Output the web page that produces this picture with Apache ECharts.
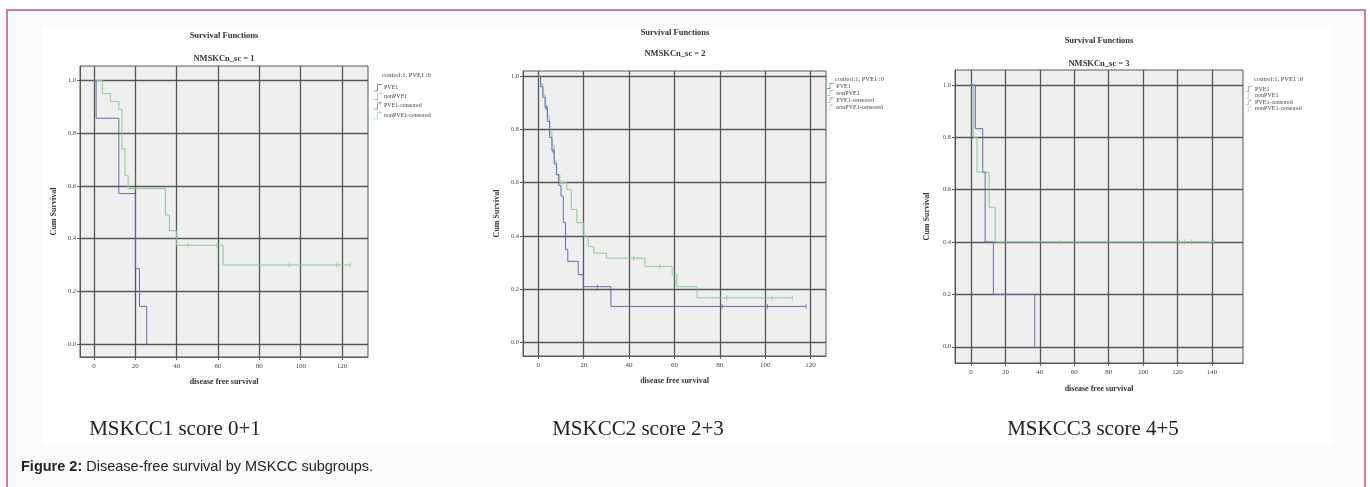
<!DOCTYPE html>
<html><head><meta charset="utf-8">
<script src="https://cdn.jsdelivr.net/npm/echarts@6/dist/echarts.min.js"></script>
<style>html,body{margin:0;padding:0;background:#fff}#c{width:1370px;height:487px}</style>
</head><body><div id="c"></div><script>
// ---------- data ----------
const panelSubtitles = ['NMSKCn_sc = 1', 'NMSKCn_sc = 2', 'NMSKCn_sc = 3'];
const panelLabels = ['MSKCC1 score 0+1', 'MSKCC2 score 2+3', 'MSKCC3 score 4+5'];
const legendHeader = 'control:1, PVE1 :0';
const seriesNames = ['PVE1', 'nonPVE1', 'PVE1-censored', 'nonPVE1-censored'];
const xTicksA = [0, 20, 40, 60, 80, 100, 120];
const xTicksB = [0, 20, 40, 60, 80, 100, 120, 140];
const yTicks = [0, 0.2, 0.4, 0.6, 0.8, 1.0];

// Panel 1 (NMSKCn_sc = 1)
const p1PveTime = [0, 1, 12, 20, 22, 25.5];
const p1PveSurv = [1, 0.857, 0.571, 0.286, 0.143, 0];
const p1NonTime = [0, 4, 8, 12, 13.5, 15, 16.5, 34.5, 36.5, 40, 62.5, 124];
const p1NonSurv = [1, 0.95, 0.92, 0.89, 0.74, 0.64, 0.59, 0.49, 0.43, 0.375, 0.30, 0.30];
const p1PveCensTime = [];
const p1PveCensSurv = [];
const p1NonCensTime = [45.5, 59.5, 94.5, 117.5, 124];
const p1NonCensSurv = [0.375, 0.375, 0.30, 0.30, 0.30];

// Panel 2 (NMSKCn_sc = 2)
const p2PveTime = [0, 1, 2, 3, 4, 5, 6, 7, 8, 9, 10, 11, 12, 13, 17.6, 19.8, 32, 118];
const p2PveSurv = [1, 0.96, 0.92, 0.88, 0.83, 0.77, 0.72, 0.67, 0.63, 0.59, 0.55, 0.45, 0.35, 0.305, 0.255, 0.21, 0.136, 0.136];
const p2NonTime = [0, 1, 2, 3, 4, 5, 6, 7, 8, 9.5, 12.5, 14.5, 17, 20, 22, 24.5, 30, 47, 59, 61, 70, 112];
const p2NonSurv = [1, 0.97, 0.93, 0.89, 0.85, 0.79, 0.74, 0.68, 0.63, 0.6, 0.575, 0.5, 0.45, 0.4, 0.36, 0.336, 0.317, 0.286, 0.255, 0.21, 0.168, 0.168];
const p2PveCensTime = [3.5, 6.5, 26, 81, 101, 118];
const p2PveCensSurv = [0.88, 0.72, 0.21, 0.136, 0.136, 0.136];
const p2NonCensTime = [42, 53.5, 83, 103, 112];
const p2NonCensSurv = [0.317, 0.286, 0.168, 0.168, 0.168];

// Panel 3 (NMSKCn_sc = 3)
const p3PveTime = [0, 2.5, 6.8, 8.2, 13, 37];
const p3PveSurv = [1, 0.833, 0.667, 0.4, 0.2, 0];
const p3NonTime = [0, 1.5, 3.5, 10.5, 14, 141];
const p3NonSurv = [1, 0.8, 0.667, 0.533, 0.4, 0.4];
const p3PveCensTime = [];
const p3PveCensSurv = [];
const p3NonCensTime = [52, 121, 124, 128, 141];
const p3NonCensSurv = [0.4, 0.4, 0.4, 0.4, 0.4];

// ---------- layout / style ----------
const BLUE = '#6a6aa8';
const GREEN = '#86cc98';
const GRIDC = '#575757';
const SERIF = 'Liberation Serif';

const panels = [
  { grid: {left: 80, top: 66, width: 288, height: 291}, x: [-6.8, 132.6], y: [-0.049, 1.055], xt: xTicksA,
    cx: 224, tTop: 31, sTop: 54, legL: 374, legT: 84, legGap: 1.6, legH: 8, legHdrTop: 72, lblTop: 419, lblX: 175,
    yNameGap: 22, xNameGap: 21,
    pve: [p1PveTime, p1PveSurv], non: [p1NonTime, p1NonSurv], pc: [p1PveCensTime, p1PveCensSurv], nc: [p1NonCensTime, p1NonCensSurv] },
  { grid: {left: 523, top: 71, width: 303, height: 285}, x: [-6.75, 126.8], y: [-0.05, 1.019], xt: xTicksA,
    cx: 675, tTop: 28, sTop: 49, legL: 827, legT: 83, legGap: 1, legH: 6, legHdrTop: 76, lblTop: 419, lblX: 638,
    yNameGap: 22, xNameGap: 21,
    pve: [p2PveTime, p2PveSurv], non: [p2NonTime, p2NonSurv], pc: [p2PveCensTime, p2PveCensSurv], nc: [p2NonCensTime, p2NonCensSurv] },
  { grid: {left: 955, top: 70, width: 288, height: 293}, x: [-9.3, 158], y: [-0.062, 1.057], xt: xTicksB,
    cx: 1099, tTop: 36, sTop: 59, legL: 1246, legT: 86, legGap: 0.5, legH: 5.5, legHdrTop: 76, lblTop: 419, lblX: 1093,
    yNameGap: 24, xNameGap: 22,
    pve: [p3PveTime, p3PveSurv], non: [p3NonTime, p3NonSurv], pc: [p3PveCensTime, p3PveCensSurv], nc: [p3NonCensTime, p3NonCensSurv] }
];

const zip = (t, s) => t.map((v, i) => [v, s[i]]);
const stepIcon = 'path://M0,9 L4,9 L4,1 L10,1 L10,2 L5,2 L5,10 L0,10 Z';
const censIcon = 'path://M0,9 L4,9 L4,1 L10,1 L10,2 L5,2 L5,10 L0,10 Z M7,0 L8,0 L8,4 L7,4 Z';

const option = {
  backgroundColor: '#ffffff',
  animation: false,
  title: [],
  grid: [],
  xAxis: [],
  yAxis: [],
  legend: [],
  series: [],
  graphic: [
    { type: 'rect', shape: {x: 7, y: 10, width: 1358, height: 500}, style: {fill: '#fbfbfb', stroke: '#c4546f', lineWidth: 1.5}, z: -10 },
    { type: 'rect', shape: {x: 42, y: 26, width: 1291, height: 419}, style: {fill: '#ffffff'}, z: -9 }
  ]
};

panels.forEach((p, i) => {
  option.grid.push(Object.assign({show: true, backgroundColor: '#efefef', borderColor: GRIDC, borderWidth: 1}, p.grid));
  option.xAxis.push({
    type: 'value', gridIndex: i, min: p.x[0], max: p.x[1],
    name: 'disease free survival', nameLocation: 'middle', nameGap: p.xNameGap,
    nameTextStyle: {fontFamily: SERIF, fontSize: 8, fontWeight: 'bold', color: '#333'},
    axisLine: {show: true, onZero: false, lineStyle: {color: GRIDC}},
    axisTick: {show: true, length: 3, customValues: p.xt, lineStyle: {color: GRIDC}},
    axisLabel: {customValues: p.xt, fontFamily: SERIF, fontSize: 7, color: '#444', margin: 6},
    splitLine: {show: true, lineStyle: {color: GRIDC, width: 1.3}}
  });
  option.yAxis.push({
    type: 'value', gridIndex: i, min: p.y[0], max: p.y[1],
    name: 'Cum Survival', nameLocation: 'middle', nameGap: p.yNameGap, nameRotate: 90,
    nameTextStyle: {fontFamily: SERIF, fontSize: 8, fontWeight: 'bold', color: '#333'},
    axisLine: {show: true, onZero: false, lineStyle: {color: GRIDC}},
    axisTick: {show: true, length: 3, customValues: yTicks, lineStyle: {color: GRIDC}},
    axisLabel: {customValues: yTicks, fontFamily: SERIF, fontSize: 6.5, color: '#444', margin: 4, formatter: v => Number(v).toFixed(1)},
    splitLine: {show: true, lineStyle: {color: GRIDC, width: 1.3}}
  });
  option.title.push({ text: 'Survival Functions', left: p.cx, top: p.tTop, textAlign: 'center', padding: 0,
    textStyle: {fontFamily: SERIF, fontSize: 8.5, fontWeight: 'bold', color: '#333'} });
  option.title.push({ text: panelSubtitles[i], left: p.cx, top: p.sTop, textAlign: 'center', padding: 0,
    textStyle: {fontFamily: SERIF, fontSize: 8.5, fontWeight: 'bold', color: '#333'} });
  option.title.push({ text: legendHeader, left: p.legL + 8, top: p.legHdrTop, padding: 0,
    textStyle: {fontFamily: SERIF, fontSize: 6.5, fontWeight: 'normal', color: '#444'} });
  option.title.push({ text: panelLabels[i], left: p.lblX, top: p.lblTop, textAlign: 'center', padding: 0,
    textStyle: {fontFamily: SERIF, fontSize: 21, fontWeight: 'normal', color: '#222'} });
  option.legend.push({
    orient: 'vertical', left: p.legL, top: p.legT, itemWidth: 8, itemHeight: p.legH, itemGap: p.legGap,
    selectedMode: false, padding: 0,
    textStyle: {fontFamily: SERIF, fontSize: 6, color: '#444', padding: [0, 0, 0, -3]},
    data: [
      {name: seriesNames[0], icon: stepIcon, itemStyle: {color: BLUE}},
      {name: seriesNames[1], icon: stepIcon, itemStyle: {color: GREEN}},
      {name: seriesNames[2], icon: censIcon, itemStyle: {color: BLUE}},
      {name: seriesNames[3], icon: censIcon, itemStyle: {color: GREEN}}
    ]
  });
  option.series.push({ name: seriesNames[0], type: 'line', step: 'end', xAxisIndex: i, yAxisIndex: i,
    data: zip(p.pve[0], p.pve[1]), showSymbol: false, lineStyle: {color: BLUE, width: 1}, itemStyle: {color: BLUE}, z: 4 });
  option.series.push({ name: seriesNames[1], type: 'line', step: 'end', xAxisIndex: i, yAxisIndex: i,
    data: zip(p.non[0], p.non[1]), showSymbol: false, lineStyle: {color: GREEN, width: 1}, itemStyle: {color: GREEN}, z: 3 });
  option.series.push({ name: seriesNames[2], type: 'scatter', xAxisIndex: i, yAxisIndex: i,
    data: zip(p.pc[0], p.pc[1]), symbol: 'rect', symbolSize: [1, 5], itemStyle: {color: BLUE}, z: 5 });
  option.series.push({ name: seriesNames[3], type: 'scatter', xAxisIndex: i, yAxisIndex: i,
    data: zip(p.nc[0], p.nc[1]), symbol: 'rect', symbolSize: [1, 5], itemStyle: {color: GREEN}, z: 5 });
});

option.title.push({
  text: '{b|Figure 2:} Disease-free survival by MSKCC subgroups.', left: 21, top: 459, padding: 0,
  textStyle: {fontFamily: 'Liberation Sans', fontSize: 14.5, fontWeight: 'normal', color: '#222',
    rich: {b: {fontFamily: 'Liberation Sans', fontSize: 14.5, fontWeight: 'bold', color: '#222'}}}
});

const chart = echarts.init(document.getElementById('c'), null, {renderer: 'canvas'});
chart.setOption(option);
</script></body></html>
